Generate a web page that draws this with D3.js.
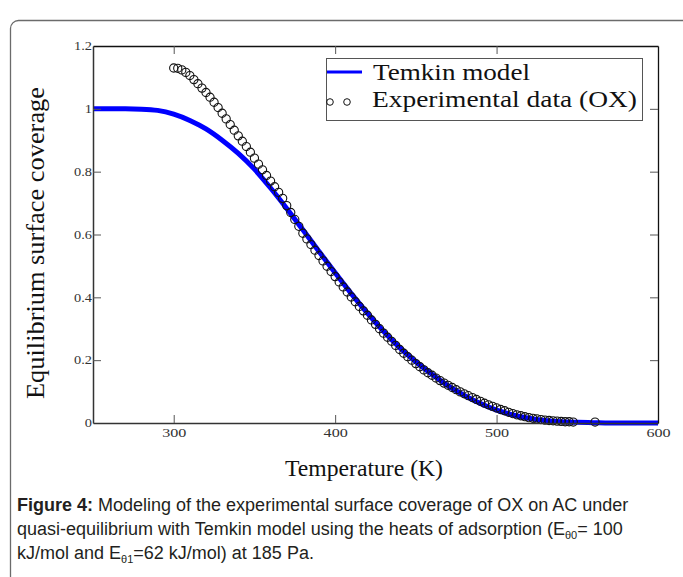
<!DOCTYPE html>
<html>
<head>
<meta charset="utf-8">
<script src="https://cdn.jsdelivr.net/npm/d3@7"></script>
<style>
  html, body { margin: 0; padding: 0; background: #fff; }
  svg { display: block; }
</style>
</head>
<body>
<svg id="chart" width="683" height="577"></svg>
<script>
// ---- data ----
const modelT = [250, 260, 270, 280, 290, 300, 310, 320, 330, 340, 350, 360, 370, 380, 390, 400, 410, 420, 430, 440, 450, 460, 470, 480, 490, 500, 510, 520, 530, 540, 550, 560, 570, 580, 590, 600];
const modelTheta = [1.0, 1.0, 1.0, 0.999, 0.995, 0.983, 0.963, 0.936, 0.900, 0.858, 0.808, 0.748, 0.683, 0.615, 0.546, 0.478, 0.412, 0.350, 0.292, 0.240, 0.195, 0.155, 0.118, 0.088, 0.062, 0.041, 0.026, 0.015, 0.008, 0.004, 0.002, 0.001, 0.0, 0.0, 0.0, 0.0];

const expT = [300, 302.5, 305, 307.5, 310, 312.5, 315, 317.5, 320, 322.5, 325, 327.5, 330, 332.5, 335, 337.5, 340, 342.5, 345, 347.5, 350, 352.5, 355, 357.5, 360, 362.5, 365, 367.5, 370, 372.5, 375, 377.5, 380, 382.5, 385, 387.5, 390, 392.5, 395, 397.5, 400, 402.5, 405, 407.5, 410, 412.5, 415, 417.5, 420, 422.5, 425, 427.5, 430, 432.5, 435, 437.5, 440, 442.5, 445, 447.5, 450, 452.5, 455, 457.5, 460, 462.5, 465, 467.5, 470, 472.5, 475, 477.5, 480, 482.5, 485, 487.5, 490, 492.5, 495, 497.5, 500, 502.5, 505, 507.5, 510, 512.5, 515, 517.5, 520, 522.5, 525, 527.5, 530, 532.5, 535, 537.5, 540, 542.5, 545, 547.5, 561];
const expTheta = [1.130, 1.129, 1.124, 1.116, 1.106, 1.093, 1.080, 1.066, 1.052, 1.037, 1.021, 1.004, 0.986, 0.968, 0.950, 0.932, 0.914, 0.897, 0.880, 0.862, 0.843, 0.824, 0.806, 0.788, 0.770, 0.752, 0.734, 0.715, 0.692, 0.670, 0.648, 0.626, 0.604, 0.586, 0.568, 0.550, 0.533, 0.516, 0.499, 0.482, 0.466, 0.449, 0.433, 0.417, 0.401, 0.386, 0.371, 0.357, 0.343, 0.328, 0.314, 0.300, 0.286, 0.273, 0.260, 0.247, 0.234, 0.222, 0.211, 0.200, 0.189, 0.179, 0.169, 0.160, 0.152, 0.143, 0.135, 0.127, 0.120, 0.113, 0.106, 0.099, 0.093, 0.087, 0.081, 0.075, 0.069, 0.063, 0.058, 0.053, 0.048, 0.043, 0.039, 0.034, 0.030, 0.026, 0.023, 0.020, 0.017, 0.015, 0.013, 0.011, 0.009, 0.008, 0.007, 0.006, 0.005, 0.004, 0.004, 0.003, 0.003];

const xTickValues = [300, 400, 500, 600];
const xInnerTicks = [300, 400, 500];
const yTickValues = [0, 0.2, 0.4, 0.6, 0.8, 1.0, 1.2];
const yInnerTicks = [0.2, 0.4, 0.6, 0.8, 1.0];

const seriesNames = ["Temkin model", "Experimental data (OX)"];
const xTitle = "Temperature (K)";
const yTitle = "Equilibrium surface coverage";

// ---- drawing ----
const svg = d3.select("#chart");
const serif = "'Liberation Serif', 'Times New Roman', serif";
const sans = "'Liberation Sans', Arial, sans-serif";

// outer rounded frame (runs off the right and bottom of the picture)
svg.append("rect")
  .attr("x", 10.5).attr("y", 20.5)
  .attr("width", 720).attr("height", 620)
  .attr("rx", 8).attr("ry", 8)
  .attr("fill", "none").attr("stroke", "#6b6b6b").attr("stroke-width", 1.3);

const x = d3.scaleLinear().domain([250, 600]).range([93, 658]);
const y = d3.scaleLinear().domain([0, 1.2]).range([423, 46]);

const fmt = d => d3.format("~g")(d);

function styleLabels(g, stretch) {
  g.selectAll("text")
    .attr("font-family", serif).attr("font-size", 11.5).attr("fill", "#333")
    .each(function() {
      const w = this.getComputedTextLength();
      d3.select(this).attr("textLength", w * stretch).attr("lengthAdjust", "spacingAndGlyphs");
    });
}

// clip for the data
svg.append("clipPath").attr("id", "clip")
  .append("rect").attr("x", 93).attr("y", 40).attr("width", 565).attr("height", 386);

// model line
svg.append("path")
  .datum(modelT.map((t, i) => [t, modelTheta[i]]))
  .attr("clip-path", "url(#clip)")
  .attr("fill", "none").attr("stroke", "#0000ff").attr("stroke-width", 5)
  .attr("d", d3.line().x(d => x(d[0])).y(d => y(d[1])).curve(d3.curveMonotoneX));

// experimental circles
svg.append("g").selectAll("circle")
  .data(expT.map((t, i) => [t, expTheta[i]]))
  .join("circle")
  .attr("cx", d => x(d[0])).attr("cy", d => y(d[1])).attr("r", 4.1)
  .attr("fill", "none").attr("stroke", "#111").attr("stroke-width", 1.1);

// axes
const gBottom = svg.append("g").attr("transform", "translate(0,423)")
  .call(d3.axisBottom(x).tickValues(xTickValues).tickFormat(fmt).tickSize(-8).tickSizeOuter(0).tickPadding(6));
gBottom.select(".domain").attr("stroke", "#333").attr("stroke-width", 1.5);
gBottom.selectAll(".tick line").attr("stroke", "#555");
gBottom.selectAll(".tick").filter(d => d === 600).select("line").remove();
styleLabels(gBottom, 1.4);

const gLeft = svg.append("g").attr("transform", "translate(93,0)")
  .call(d3.axisLeft(y).tickValues(yTickValues).tickFormat(fmt).tickSize(-8).tickSizeOuter(0).tickPadding(1));
gLeft.select(".domain").attr("stroke", "#333").attr("stroke-width", 1.5);
gLeft.selectAll(".tick line").attr("stroke", "#555");
gLeft.selectAll(".tick").filter(d => d === 0 || d === 1.2).select("line").remove();
styleLabels(gLeft, 1.25);

const gTop = svg.append("g").attr("transform", "translate(0,46)")
  .call(d3.axisTop(x).tickValues(xInnerTicks).tickFormat("").tickSize(-8).tickSizeOuter(0));
gTop.select(".domain").attr("stroke", "#111").attr("stroke-width", 1.3);
gTop.selectAll(".tick line").attr("stroke", "#555");

const gRight = svg.append("g").attr("transform", "translate(658,0)")
  .call(d3.axisRight(y).tickValues(yInnerTicks).tickFormat("").tickSize(-8).tickSizeOuter(0));
gRight.select(".domain").attr("stroke", "#111").attr("stroke-width", 1.3);
gRight.selectAll(".tick line").attr("stroke", "#555");

// legend
const lg = svg.append("g");
lg.append("rect").attr("x", 326.5).attr("y", 58.5).attr("width", 316).attr("height", 62)
  .attr("fill", "#fff").attr("stroke", "#555").attr("stroke-width", 1);
lg.append("line").attr("x1", 327).attr("x2", 362).attr("y1", 72).attr("y2", 72)
  .attr("stroke", "#0000ff").attr("stroke-width", 3);
lg.append("text").attr("x", 373).attr("y", 80).text(seriesNames[0])
  .attr("font-family", serif).attr("font-size", 24).attr("fill", "#111")
  .attr("textLength", 157).attr("lengthAdjust", "spacingAndGlyphs");
[330, 347].forEach(cx => lg.append("circle").attr("cx", cx).attr("cy", 102).attr("r", 3.3)
  .attr("fill", "none").attr("stroke", "#111").attr("stroke-width", 1));
lg.append("text").attr("x", 372).attr("y", 107).text(seriesNames[1])
  .attr("font-family", serif).attr("font-size", 24).attr("fill", "#111")
  .attr("textLength", 265).attr("lengthAdjust", "spacingAndGlyphs");

// axis titles
svg.append("text").attr("x", 364).attr("y", 476).attr("text-anchor", "middle")
  .attr("font-family", serif).attr("font-size", 23).attr("fill", "#111")
  .attr("textLength", 158).attr("lengthAdjust", "spacingAndGlyphs").text(xTitle);
svg.append("text").attr("transform", "translate(44,243) rotate(-90)").attr("text-anchor", "middle")
  .attr("font-family", serif).attr("font-size", 25).attr("fill", "#111")
  .attr("textLength", 312).attr("lengthAdjust", "spacingAndGlyphs").text(yTitle);

// caption
const cap = svg.append("g").attr("font-family", sans).attr("font-size", 18).attr("fill", "#231f20");
const l1 = cap.append("text").attr("x", 17).attr("y", 511);
l1.append("tspan").attr("font-weight", "bold").text("Figure 4:");
l1.append("tspan").text(" Modeling of the experimental surface coverage of OX on AC under");
const l2 = cap.append("text").attr("x", 17).attr("y", 535);
l2.append("tspan").text("quasi-equilibrium with Temkin model using the heats of adsorption (E");
l2.append("tspan").attr("font-size", 11).attr("dy", 4).text("θ0");
l2.append("tspan").attr("dy", -4).text("= 100");
const l3 = cap.append("text").attr("x", 17).attr("y", 559);
l3.append("tspan").text("kJ/mol and E");
l3.append("tspan").attr("font-size", 11).attr("dy", 4).text("θ1");
l3.append("tspan").attr("dy", -4).text("=62 kJ/mol) at 185 Pa.");
</script>
</body>
</html>
